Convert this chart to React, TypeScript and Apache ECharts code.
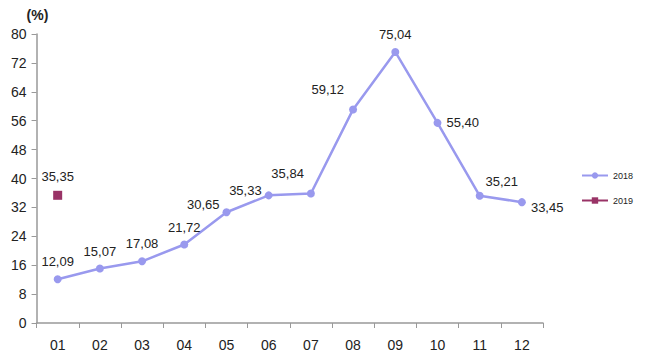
import React, { useEffect, useRef } from "react";
import * as echarts from "echarts";

const categories = ["01", "02", "03", "04", "05", "06", "07", "08", "09", "10", "11", "12"];
const values2018 = [12.09, 15.07, 17.08, 21.72, 30.65, 35.33, 35.84, 59.12, 75.04, 55.4, 35.21, 33.45];
const values2019: (number | null)[] = [35.35, null, null, null, null, null, null, null, null, null, null, null];
const labelPos2018 = ["top", "top", "top", "top", "left", "left", "left", "left", "top", "right", "top", "right"];
const labelOffset2018: [number, number][] = [
  [0, -2], [0, -2], [0, -2], [0, -2], [2, -8], [2, -5], [2, -20], [0, -20], [0, -2], [0, 0], [22, 1], [0, 5],
];

const fmt = (v: number) => v.toFixed(2).replace(".", ",");

export default function App() {
  const ref = useRef<HTMLDivElement>(null);
  useEffect(() => {
    const chart = echarts.init(ref.current!, null, { renderer: "svg" });
    chart.setOption({
      animation: false,
      backgroundColor: "#ffffff",
      textStyle: { fontFamily: "Liberation Sans, Arial, sans-serif" },
      grid: { left: 27, right: 99, top: 24, bottom: 29, containLabel: false },
      legend: {
        orient: "vertical",
        right: 4,
        top: 158,
        itemGap: 16,
        itemWidth: 26,
        itemHeight: 8,
        textStyle: { fontSize: 9, color: "#222" },
        data: ["2018", "2019"],
      },
      xAxis: {
        type: "category",
        data: categories,
        boundaryGap: true,
        axisLine: { lineStyle: { color: "#999", width: 1.5 } },
        axisTick: { show: true, length: 5, lineStyle: { color: "#999" } },
        axisLabel: { fontSize: 14, color: "#222", margin: 15 },
      },
      yAxis: {
        type: "value",
        min: 0,
        max: 80,
        interval: 8,
        name: "(%)",
        nameGap: 12,
        nameLocation: "end",
        nameTextStyle: { fontSize: 14, color: "#222", fontWeight: "bold", align: "left", padding: [0, 0, 0, -10] },
        axisLine: { show: true, lineStyle: { color: "#999", width: 1.5 } },
        axisTick: { show: true, length: 5, lineStyle: { color: "#999" } },
        splitLine: { show: false },
        axisLabel: { fontSize: 14, color: "#222", margin: 10 },
      },
      series: [
        {
          name: "2018",
          type: "line",
          data: values2018.map((v, i) => ({
            value: v,
            label: { position: labelPos2018[i], offset: labelOffset2018[i] },
          })),
          symbol: "circle",
          symbolSize: 8,
          itemStyle: { color: "#9999ee" },
          lineStyle: { color: "#9999ee", width: 2.5 },
          label: {
            show: true,
            fontSize: 13,
            color: "#222",
            distance: 5,
            formatter: (p: any) => fmt(p.value),
          },
        },
        {
          name: "2019",
          type: "line",
          data: values2019,
          symbol: "rect",
          symbolSize: 9,
          itemStyle: { color: "#993366" },
          lineStyle: { color: "#993366", width: 2 },
          label: {
            show: true,
            position: "top",
            fontSize: 13,
            color: "#222",
            distance: 8,
            formatter: (p: any) => (p.value == null ? "" : fmt(p.value)),
          },
        },
      ],
    });
    return () => chart.dispose();
  }, []);
  return <div ref={ref} style={{ width: 634, height: 344 }} />;
}
